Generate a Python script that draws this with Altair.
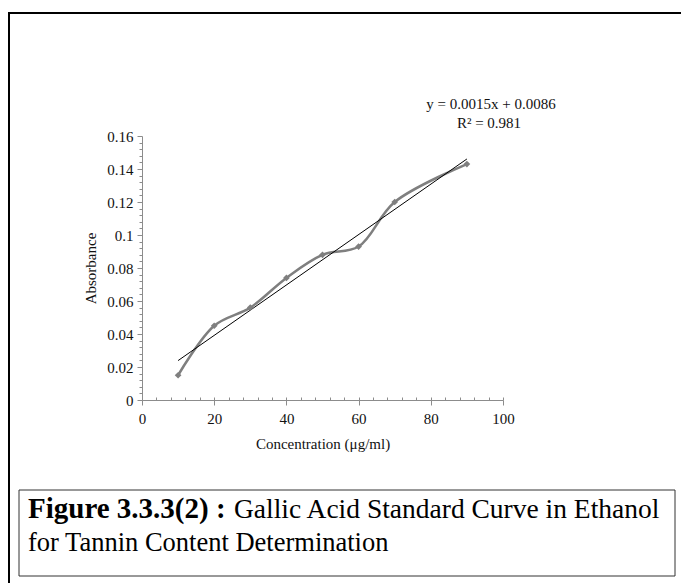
import altair as alt
import pandas as pd

# ---- data ----
concentration = [10, 20, 30, 40, 50, 60, 70, 90]
absorbance = [0.015, 0.045, 0.056, 0.074, 0.088, 0.093, 0.120, 0.143]
equation_text = "y = 0.0015x + 0.0086"
r2_text = "R² = 0.981"
x_title = "Concentration (μg/ml)"
y_title = "Absorbance"
caption_bold = "Figure 3.3.3(2) :"
caption_rest = "Gallic Acid Standard Curve in Ethanol"
caption_line2 = "for Tannin Content Determination"
x_major = [0, 20, 40, 60, 80, 100]
y_major = [0, 0.02, 0.04, 0.06, 0.08, 0.10, 0.12, 0.14, 0.16]

# minor tick positions (axis decoration)
x_minor = [i * 4 for i in range(26)]
y_ticks = [round(i * 0.004, 3) for i in range(41)]

df = pd.DataFrame({"conc": concentration, "abs": absorbance})

W, H = 361, 264
SERIF = "Liberation Serif"
GREY = "#7f7f7f"
AX = "#8c8c8c"
TXT = "#111111"
XSCALE = alt.Scale(domain=[0, 100], nice=False, zero=True)
YSCALE = alt.Scale(domain=[0, 0.16], nice=False)
MAJOR_Y = "abs(datum.value*50 - round(datum.value*50)) < 0.000001"

x_enc = alt.X(
    "conc:Q",
    scale=XSCALE,
    axis=alt.Axis(
        values=x_major,
        tickCount=200,
        format="d",
        labelOverlap=False,
        labelFlush=False,
        tickSize=5,
        title=x_title,
        grid=False,
        domainColor=AX,
        tickColor=AX,
        labelFont=SERIF,
        labelFontSize=15,
        labelColor=TXT,
        labelPadding=6,
        titleFont=SERIF,
        titleFontSize=15,
        titleFontWeight="normal",
        titleColor=TXT,
        titlePadding=10,
    ),
)
y_enc = alt.Y(
    "abs:Q",
    scale=YSCALE,
    axis=alt.Axis(
        values=y_ticks,
        tickCount=200,
        labelOverlap=False,
        labelFlush=False,
        labelExpr=MAJOR_Y + " ? format(round(datum.value*100)/100, '') : ''",
        tickSize={"condition": {"test": MAJOR_Y, "value": 5}, "value": 3},
        title=y_title,
        grid=False,
        domainColor=AX,
        tickColor=AX,
        labelFont=SERIF,
        labelFontSize=15,
        labelColor=TXT,
        labelPadding=4,
        titleFont=SERIF,
        titleFontSize=15,
        titleFontWeight="normal",
        titleColor=TXT,
        titlePadding=8,
    ),
)

base = alt.Chart(df)

smooth = base.mark_line(color=GREY, strokeWidth=2.5, interpolate="catmull-rom").encode(x=x_enc, y=y_enc)

# minor x ticks pointing up into the plot (top-oriented axis moved onto the bottom edge)
minor_x = base.mark_point(opacity=0).encode(
    x=alt.X(
        "conc:Q",
        scale=XSCALE,
        axis=alt.Axis(
            orient="top",
            offset=-H,
            values=x_minor,
            tickCount=200,
            labels=False,
            domain=False,
            grid=False,
            tickSize=3,
            tickColor=AX,
            title=None,
        ),
    ),
    y=alt.Y("abs:Q"),
)

points = base.mark_point(shape="diamond", filled=True, color=GREY, size=45, opacity=1).encode(
    x=alt.X("conc:Q", axis=None), y=alt.Y("abs:Q")
)
trend = (
    base.transform_regression("conc", "abs", extent=[10, 90])
    .mark_line(color="black", strokeWidth=1)
    .encode(x=alt.X("conc:Q", axis=None), y=alt.Y("abs:Q"))
)

eq_df = pd.DataFrame({"t": [equation_text]})
r2_df = pd.DataFrame({"t": [r2_text]})
eq = alt.Chart(eq_df).mark_text(font=SERIF, fontSize=15, color=TXT, align="center", baseline="middle").encode(
    text="t:N", x=alt.value(349), y=alt.value(-32)
)
r2 = alt.Chart(r2_df).mark_text(font=SERIF, fontSize=15, color=TXT, align="center", baseline="middle").encode(
    text="t:N", x=alt.value(347), y=alt.value(-13)
)

# frames
outer = alt.Chart(eq_df).mark_rect(fill="transparent", stroke="black", strokeWidth=2).encode(
    x=alt.value(-133), x2=alt.value(600), y=alt.value(-123), y2=alt.value(600)
)
cap_box = alt.Chart(eq_df).mark_rect(fill="transparent", stroke="#333333", strokeWidth=1).encode(
    x=alt.value(-123), x2=alt.value(533), y=alt.value(354), y2=alt.value(440)
)

cap1 = alt.Chart(pd.DataFrame({"t": [caption_bold]})).mark_text(
    font=SERIF, fontSize=29, fontWeight="bold", color="black", align="left", baseline="alphabetic"
).encode(text="t:N", x=alt.value(-114), y=alt.value(382))
cap2 = alt.Chart(pd.DataFrame({"t": [caption_rest]})).mark_text(
    font=SERIF, fontSize=27.5, color="black", align="left", baseline="alphabetic"
).encode(text="t:N", x=alt.value(92), y=alt.value(382))
cap3 = alt.Chart(pd.DataFrame({"t": [caption_line2]})).mark_text(
    font=SERIF, fontSize=26.5, color="black", align="left", baseline="alphabetic"
).encode(text="t:N", x=alt.value(-114), y=alt.value(415))

chart = (
    alt.layer(outer, cap_box, smooth, minor_x, trend, points, eq, r2, cap1, cap2, cap3)
    .resolve_scale(x="shared", y="shared")
    .resolve_axis(x="independent", y="shared")
    .properties(
        width=W,
        height=H,
        autosize=alt.AutoSizeParams(type="none"),
        padding={"left": 142, "top": 136, "right": 681 - 142 - W, "bottom": 583 - 136 - H},
        background="white",
    )
    .configure_view(stroke=None)
)

chart.save("out.html", embed_options={"renderer": "svg", "actions": False})
